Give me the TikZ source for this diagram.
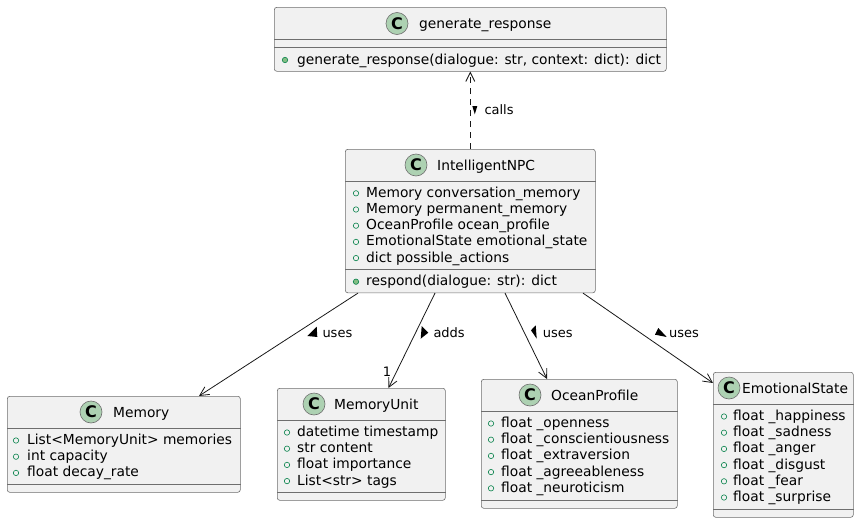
\documentclass[tikz,border=0pt]{standalone}
\usepackage{fontspec}
\setmainfont{DejaVu Sans}
\usetikzlibrary{arrows.meta}
\definecolor{linec}{HTML}{181818}
\definecolor{boxline}{HTML}{6E6E6E}
\definecolor{boxfill}{HTML}{F1F1F1}
\definecolor{iconfill}{HTML}{ADD1B2}
\definecolor{bulletc}{HTML}{038048}
\definecolor{bulletfill}{HTML}{84BE84}
\tikzset{
  box/.style={draw=boxline, fill=boxfill, line width=0.6pt, rounded corners=2.5pt, inner sep=0pt, anchor=north west},
  divider/.style={draw=boxline, line width=0.6pt},
  cname/.style={anchor=base west, inner sep=0pt, font=\fontsize{13.8}{16}\selectfont},
  member/.style={anchor=base west, inner sep=0pt, font=\fontsize{13.8}{16}\selectfont},
  lbl/.style={anchor=base west, inner sep=0pt, font=\fontsize{13}{15}\selectfont},
  cicon/.style={circle, draw=boxline, fill=iconfill, minimum size=22pt, inner sep=0pt, line width=0.6pt, font=\fontsize{16}{16}\bfseries},
  attrb/.style={draw=bulletc, line width=0.6pt},
  methb/.style={draw=bulletc, fill=bulletfill, line width=0.6pt},
  tri/.style={fill=black},
  assoc/.style={draw=linec, line width=0.8pt, -{Straight Barb[length=9pt,width=9pt]}},
}
\begin{document}
\begin{tikzpicture}[x=1pt,y=-1pt]
\useasboundingbox (0,0) rectangle (859,522);

% ---------- generate_response ----------
\node[box, minimum width=392pt, minimum height=64pt] (gen) at (274,7) {};
\draw[divider] ([yshift=-32pt]gen.north west) -- ([yshift=-32pt]gen.north east);
\draw[divider] ([yshift=-40pt]gen.north west) -- ([yshift=-40pt]gen.north east);
\node[cicon] (genicon) at (397,23.5) {C};
\node[cname] (genname) at (419,28) {generate\_response};
\draw[methb] (285,60) circle (2.7);
\node[member] (genm1) at (297,64) {generate\_response(dialogue: str, context: dict): dict};

% ---------- IntelligentNPC ----------
\node[box, minimum width=250pt, minimum height=143.5pt] (npc) at (345,149) {};
\draw[divider] ([yshift=-32pt]npc.north west) -- ([yshift=-32pt]npc.north east);
\draw[divider] ([yshift=-120pt]npc.north west) -- ([yshift=-120pt]npc.north east);
\node[cicon] (npcicon) at (416,165) {C};
\node[cname] (npcname) at (437,170) {IntelligentNPC};
\draw[attrb] (356,193.3) circle (2.7);
\node[member] (npca1) at (366,197.3) {Memory conversation\_memory};
\draw[attrb] (356,209.5) circle (2.7);
\node[member] (npca2) at (366,213.5) {Memory permanent\_memory};
\draw[attrb] (356,225.7) circle (2.7);
\node[member] (npca3) at (366,229.7) {OceanProfile ocean\_profile};
\draw[attrb] (356,241.9) circle (2.7);
\node[member] (npca4) at (366,245.9) {EmotionalState emotional\_state};
\draw[attrb] (356,258.1) circle (2.7);
\node[member] (npca5) at (366,262.1) {dict possible\_actions};
\draw[methb] (356,281.7) circle (2.7);
\node[member] (npcm1) at (366,285.7) {respond(dialogue: str): dict};

% ---------- Memory ----------
\node[box, minimum width=233pt, minimum height=96pt] (mem) at (7,396) {};
\draw[divider] ([yshift=-32pt]mem.north west) -- ([yshift=-32pt]mem.north east);
\draw[divider] ([yshift=-88pt]mem.north west) -- ([yshift=-88pt]mem.north east);
\node[cicon] (memicon) at (91,412) {C};
\node[cname] (memname) at (113,417) {Memory};
\draw[attrb] (16,440.5) circle (2.7);
\node[member] (mema1) at (27,444.5) {List<MemoryUnit> memories};
\draw[attrb] (16,456.7) circle (2.7);
\node[member] (mema2) at (27,460.7) {int capacity};
\draw[attrb] (16,472.9) circle (2.7);
\node[member] (mema3) at (27,476.9) {float decay\_rate};

% ---------- MemoryUnit ----------
\node[box, minimum width=168pt, minimum height=112pt] (mu) at (277,388) {};
\draw[divider] ([yshift=-32pt]mu.north west) -- ([yshift=-32pt]mu.north east);
\draw[divider] ([yshift=-104pt]mu.north west) -- ([yshift=-104pt]mu.north east);
\node[cicon] (muicon) at (314,404) {C};
\node[cname] (muname) at (334,409) {MemoryUnit};
\draw[attrb] (287,432.5) circle (2.7);
\node[member] (mua1) at (297,436.5) {datetime timestamp};
\draw[attrb] (287,448.7) circle (2.7);
\node[member] (mua2) at (297,452.7) {str content};
\draw[attrb] (287,464.9) circle (2.7);
\node[member] (mua3) at (297,468.9) {float importance};
\draw[attrb] (287,481.1) circle (2.7);
\node[member] (mua4) at (297,485.1) {List<str> tags};

% ---------- OceanProfile ----------
\node[box, minimum width=196pt, minimum height=129pt] (ocean) at (481,379) {};
\draw[divider] ([yshift=-32pt]ocean.north west) -- ([yshift=-32pt]ocean.north east);
\draw[divider] ([yshift=-121pt]ocean.north west) -- ([yshift=-121pt]ocean.north east);
\node[cicon] (oceanicon) at (530,395) {C};
\node[cname] (oceanname) at (551,400) {OceanProfile};
\draw[attrb] (491,423.5) circle (2.7);
\node[member] (oa1) at (501,427.5) {float \_openness};
\draw[attrb] (491,439.7) circle (2.7);
\node[member] (oa2) at (501,443.7) {float \_conscientiousness};
\draw[attrb] (491,455.9) circle (2.7);
\node[member] (oa3) at (501,459.9) {float \_extraversion};
\draw[attrb] (491,472.1) circle (2.7);
\node[member] (oa4) at (501,476.1) {float \_agreeableness};
\draw[attrb] (491,488.3) circle (2.7);
\node[member] (oa5) at (501,492.3) {float \_neuroticism};

% ---------- EmotionalState ----------
\node[box, minimum width=140pt, minimum height=145pt] (emo) at (713,372) {};
\draw[divider] ([yshift=-32pt]emo.north west) -- ([yshift=-32pt]emo.north east);
\draw[divider] ([yshift=-137pt]emo.north west) -- ([yshift=-137pt]emo.north east);
\node[cicon] (emoicon) at (729,388) {C};
\node[cname] (emoname) at (742,393) {EmotionalState};
\draw[attrb] (724,416.5) circle (2.7);
\node[member] (ea1) at (733,420.5) {float \_happiness};
\draw[attrb] (724,432.7) circle (2.7);
\node[member] (ea2) at (733,436.7) {float \_sadness};
\draw[attrb] (724,448.9) circle (2.7);
\node[member] (ea3) at (733,452.9) {float \_anger};
\draw[attrb] (724,465.1) circle (2.7);
\node[member] (ea4) at (733,469.1) {float \_disgust};
\draw[attrb] (724,481.3) circle (2.7);
\node[member] (ea5) at (733,485.3) {float \_fear};
\draw[attrb] (724,497.5) circle (2.7);
\node[member] (ea6) at (733,501.5) {float \_surprise};

% ---------- connectors ----------
\draw[assoc, dash pattern=on 6pt off 5pt] (npc.north) -- (gen.south);
\draw[assoc] ([xshift=13pt]npc.south west) -- ([xshift=192pt]mem.north west);
\draw[assoc] ([xshift=90pt]npc.south west) -- ([xshift=111.5pt]mu.north west);
\draw[assoc] ([xshift=160pt]npc.south west) -- ([xshift=66pt]ocean.north west);
\draw[assoc] ([xshift=238pt]npc.south west) -- ([yshift=-11pt]emo.north west);

% ---------- labels ----------
\fill[tri] (472.3,106) -- (477.3,106) -- (474.8,114.3) -- cycle;
\node[lbl] (lcalls) at (484.3,114.3) {calls};
\fill[tri] (316.7,326.7) -- (307.3,336) -- (317.3,337) -- cycle;
\node[lbl] (luses1) at (322.3,337.3) {uses};
\fill[tri] (421.7,326) -- (420.7,338.7) -- (428.3,332.7) -- cycle;
\node[lbl] (ladds) at (433.3,337.3) {adds};
\node[lbl, anchor=base] (lone) at (387,376) {1};
\fill[tri] (535.7,325.3) -- (536.7,338.7) -- (531,330.3) -- cycle;
\node[lbl] (luses2) at (542.7,337.3) {uses};
\fill[tri] (658.3,328) -- (655,334.7) -- (666.7,337) -- cycle;
\node[lbl] (luses3) at (669,337.3) {uses};
\end{tikzpicture}
\end{document}
